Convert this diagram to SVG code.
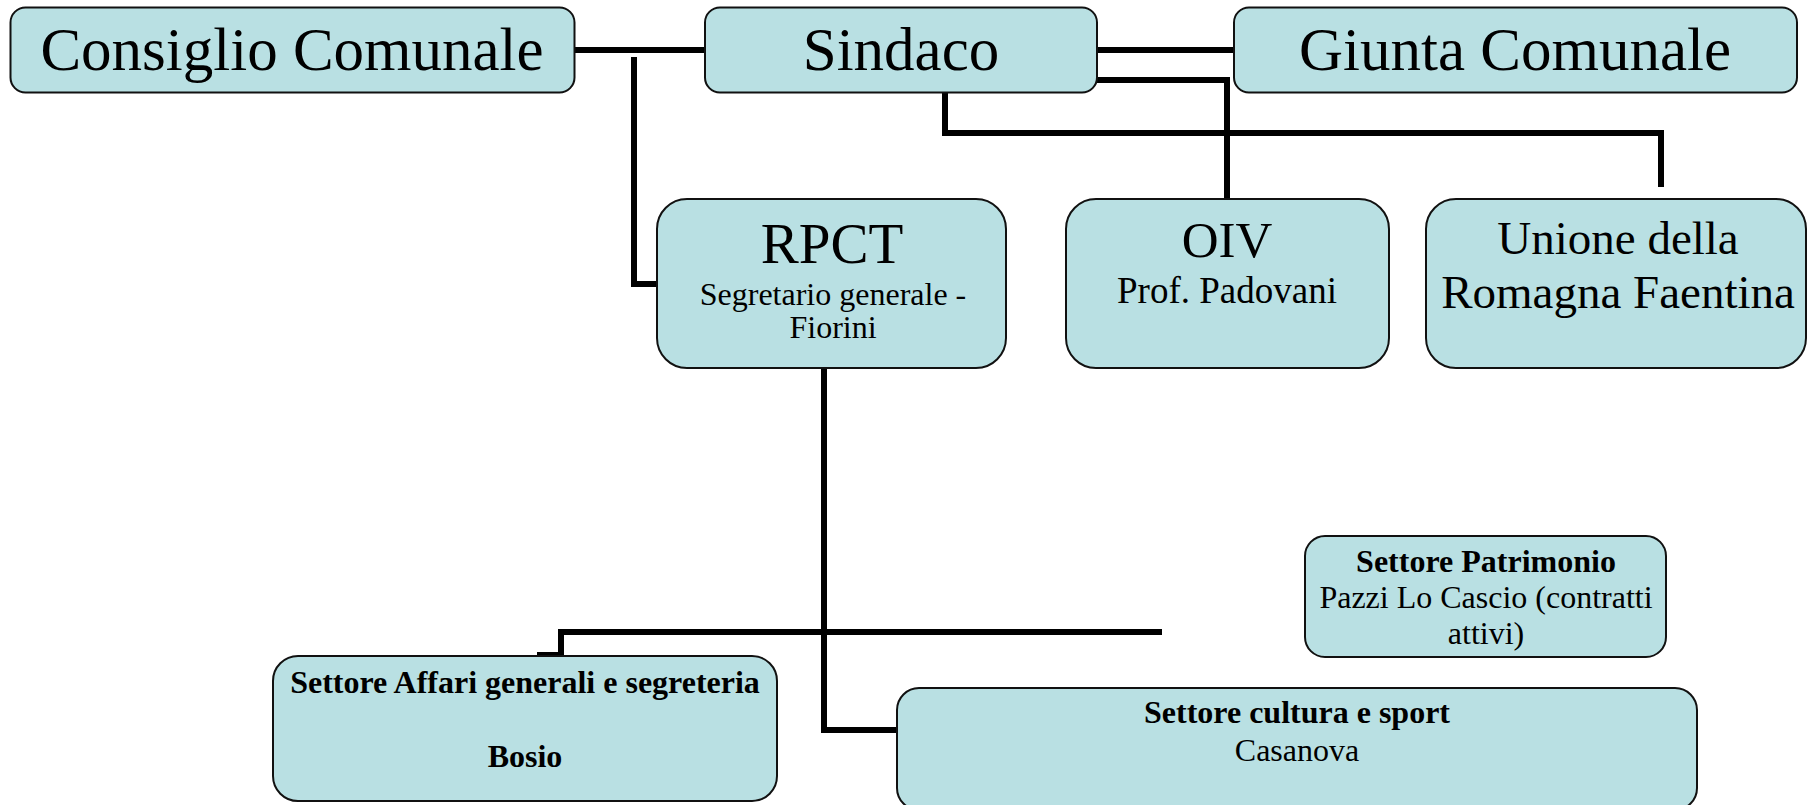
<svg xmlns="http://www.w3.org/2000/svg" width="1807" height="805" viewBox="0 0 1807 805">
<style>
.box{fill:#B9E0E3;stroke:#111;stroke-width:2}
.t{fill:#000;text-anchor:middle}
.b{font-weight:bold}
.ln{fill:none;stroke:#000;stroke-width:6;stroke-linejoin:miter}
</style>
<rect width="1807" height="805" fill="#fff"/>
<g id="connectors">
<path class="ln" d="M574 50 H705"/>
<path class="ln" d="M634 57 V284 H657"/>
<path class="ln" d="M1097 50 H1234"/>
<path class="ln" d="M1097 80 H1227 V199"/>
<path class="ln" d="M945 82 V133 H1661 V187"/>
<path class="ln" d="M824 368 V730 H897"/>
<path class="ln" d="M537 655 H561 V632 H1162"/>
</g>
<g font-family="Liberation Serif, Tinos, Times New Roman, Noto Serif, DejaVu Serif, serif">
<g id="consiglio">
<rect class="box" x="10.5" y="7.5" width="564" height="85" rx="15"/>
<text class="t" x="292" y="70" font-size="61">Consiglio Comunale</text>
</g>
<g id="sindaco">
<rect class="box" x="705" y="7.5" width="392" height="85" rx="15"/>
<text class="t" x="901" y="70" font-size="61">Sindaco</text>
</g>
<g id="giunta">
<rect class="box" x="1234" y="7.5" width="563" height="85" rx="15"/>
<text class="t" x="1515" y="70" font-size="61">Giunta Comunale</text>
</g>
<g id="rpct">
<rect class="box" x="657" y="199" width="349" height="169" rx="30"/>
<text class="t" x="832" y="263" font-size="57">RPCT</text>
<text class="t" x="833" y="305" font-size="32">Segretario generale -</text>
<text class="t" x="833" y="338" font-size="32">Fiorini</text>
</g>
<g id="oiv">
<rect class="box" x="1066" y="199" width="323" height="169" rx="30"/>
<text class="t" x="1227" y="257" font-size="51">OIV</text>
<text class="t" x="1227" y="303" font-size="37">Prof. Padovani</text>
</g>
<g id="unione">
<rect class="box" x="1426" y="199" width="380" height="169" rx="30"/>
<text class="t" x="1618" y="254" font-size="47">Unione della</text>
<text class="t" x="1618" y="308" font-size="47">Romagna Faentina</text>
</g>
<g id="patrimonio">
<rect class="box" x="1305" y="536" width="361" height="121" rx="20"/>
<text class="t b" x="1486" y="572" font-size="32">Settore Patrimonio</text>
<text class="t" x="1486" y="608" font-size="32">Pazzi Lo Cascio (contratti</text>
<text class="t" x="1486" y="644" font-size="32">attivi)</text>
</g>
<g id="affari">
<rect class="box" x="273" y="656" width="504" height="145" rx="25"/>
<text class="t b" x="525" y="693" font-size="32">Settore Affari generali e segreteria</text>
<text class="t b" x="525" y="767" font-size="32">Bosio</text>
</g>
<g id="cultura">
<rect class="box" x="897" y="688" width="800" height="122" rx="22"/>
<text class="t b" x="1297" y="723" font-size="32">Settore cultura e sport</text>
<text class="t" x="1297" y="761" font-size="32">Casanova</text>
</g>
</g>
</svg>
